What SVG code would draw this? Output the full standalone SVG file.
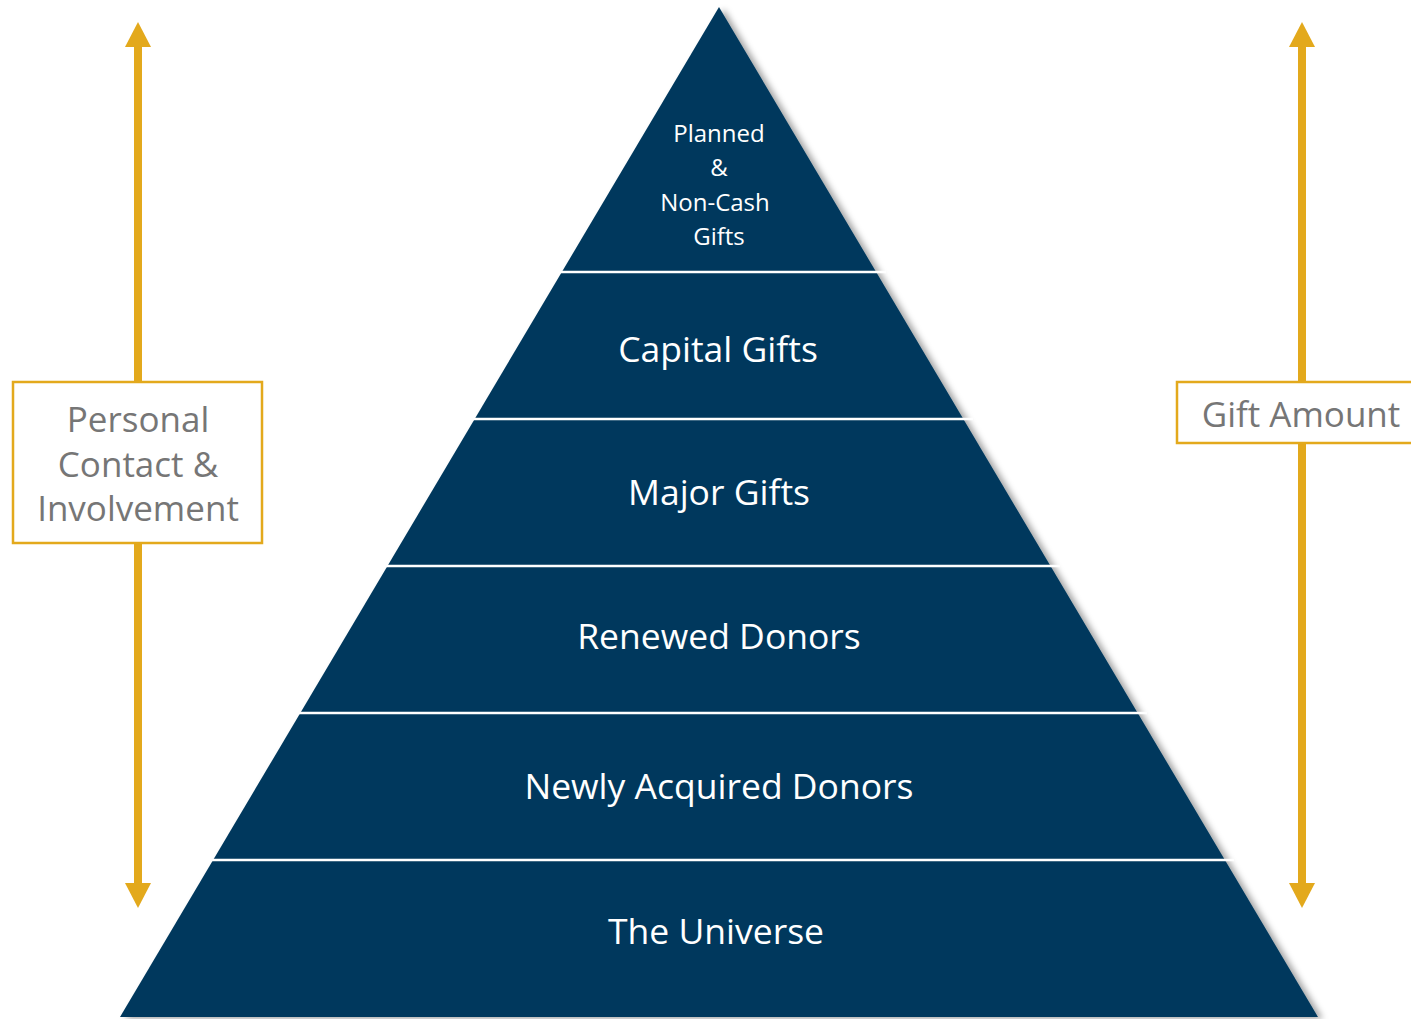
<svg xmlns="http://www.w3.org/2000/svg" width="1411" height="1019" viewBox="0 0 1411 1019">
  <style>
    .tier-label { font-family: "Open Sans", "Noto Sans", "Liberation Sans", sans-serif; fill: #ffffff; text-anchor: middle; }
    .side-label { font-family: "Open Sans", "Noto Sans", "Liberation Sans", sans-serif; fill: #767676; text-anchor: middle; font-size: 35px; }
    .side-box { fill: #ffffff; stroke: #E3A91C; stroke-width: 2.5; }
    .shaft { stroke: #E3A91C; stroke-width: 8; fill: none; }
    .head { fill: #E3A91C; }
    .divider { stroke: #ffffff; stroke-width: 2.6; }
  </style>
  <defs>
    <filter id="soft-shadow" x="-5%" y="-5%" width="115%" height="115%">
      <feDropShadow dx="5" dy="2" stdDeviation="3" flood-color="#000000" flood-opacity="0.35"/>
    </filter>
  </defs>

  <rect width="1411" height="1019" fill="#ffffff"/>

  <!-- pyramid body -->
  <g id="pyramid">
    <polygon points="719,7 1318,1017 120,1017" fill="#02395D" filter="url(#soft-shadow)"/>
  </g>

  <!-- tier dividers -->
  <g id="dividers">
    <line class="divider" x1="560" y1="272" x2="886" y2="272"/>
    <line class="divider" x1="473" y1="419" x2="973" y2="419"/>
    <line class="divider" x1="386" y1="566" x2="1060" y2="566"/>
    <line class="divider" x1="299" y1="713" x2="1147" y2="713"/>
    <line class="divider" x1="212" y1="860" x2="1234" y2="860"/>
  </g>

  <g id="tier-planned">
    <text class="tier-label" font-size="24" x="719" y="142">Planned</text>
    <text class="tier-label" font-size="24" x="719" y="176">&amp;</text>
    <text class="tier-label" font-size="24" x="715" y="211">Non-Cash</text>
    <text class="tier-label" font-size="24" x="719" y="245">Gifts</text>
  </g>
  <g id="tier-capital">
    <text class="tier-label" font-size="35.5" x="718" y="362">Capital Gifts</text>
  </g>
  <g id="tier-major">
    <text class="tier-label" font-size="35.5" x="719" y="505">Major Gifts</text>
  </g>
  <g id="tier-renewed">
    <text class="tier-label" font-size="35.5" x="719" y="649">Renewed Donors</text>
  </g>
  <g id="tier-new">
    <text class="tier-label" font-size="35.5" x="719" y="799">Newly Acquired Donors</text>
  </g>
  <g id="tier-universe">
    <text class="tier-label" font-size="35.5" x="716" y="944">The Universe</text>
  </g>

  <!-- double-headed axis arrows -->
  <g id="connectors">
    <line class="shaft" x1="138" y1="45" x2="138" y2="885"/>
    <polygon class="head" points="138,22 151,47 125,47"/>
    <polygon class="head" points="138,908 151,883 125,883"/>
    <line class="shaft" x1="1302" y1="45" x2="1302" y2="885"/>
    <polygon class="head" points="1302,22 1315,47 1289,47"/>
    <polygon class="head" points="1302,908 1315,883 1289,883"/>
  </g>

  <g id="label-personal">
    <rect class="side-box" x="13" y="382" width="249" height="161"/>
    <text class="side-label" x="138" y="432">Personal</text>
    <text class="side-label" x="138" y="477">Contact &amp;</text>
    <text class="side-label" x="138" y="521">Involvement</text>
  </g>

  <g id="label-gift">
    <rect class="side-box" x="1177" y="382" width="250" height="61"/>
    <text class="side-label" x="1301" y="427">Gift Amount</text>
  </g>
</svg>
